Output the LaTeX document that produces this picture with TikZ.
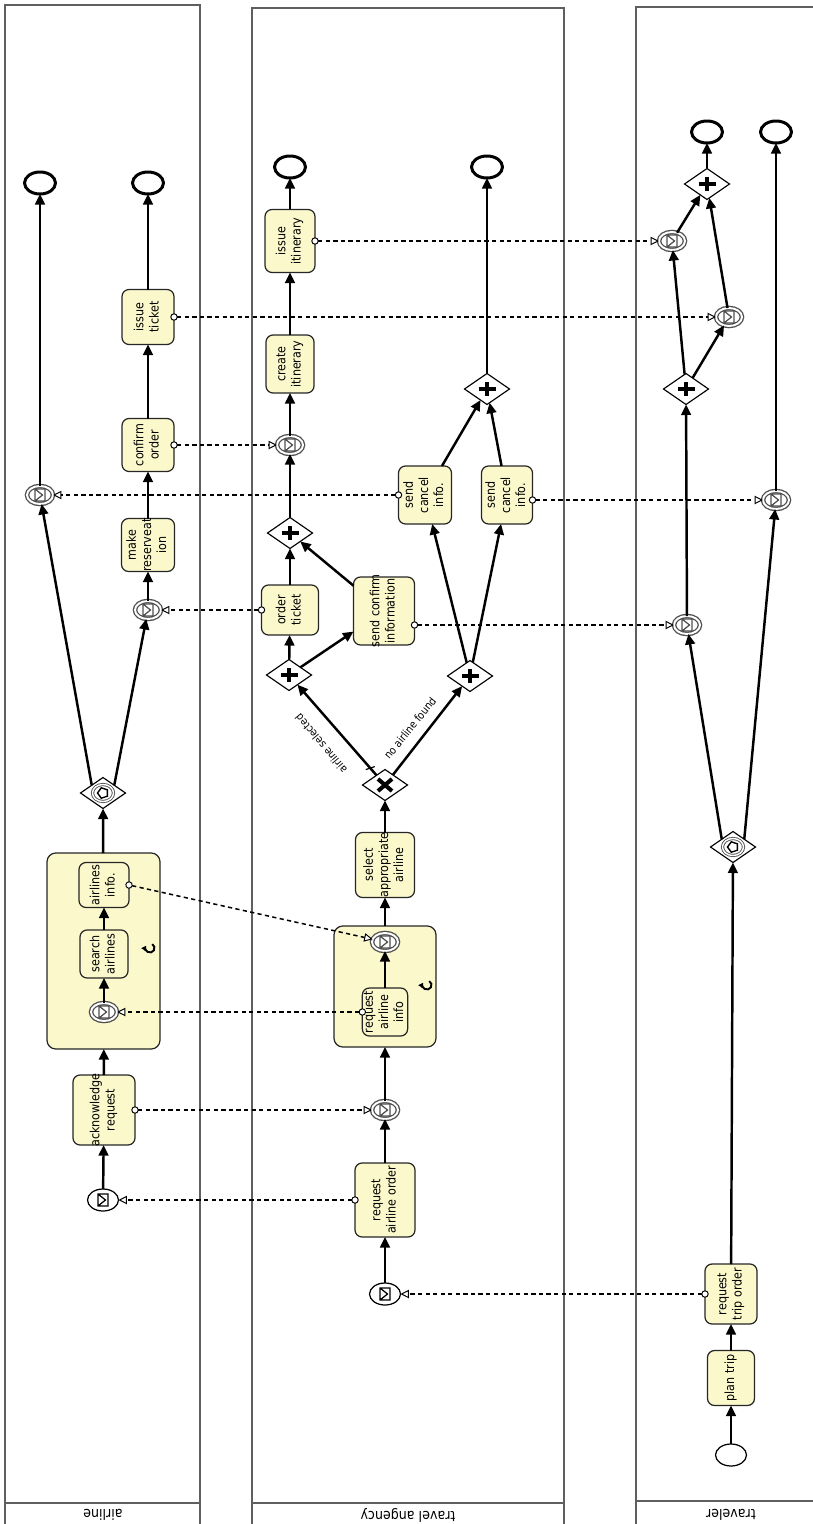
\documentclass[tikz,border=0pt]{standalone}
\usepackage{graphicx}
\usepackage{fontspec}
\setmainfont{DejaVu Sans}[FakeStretch=0.88]
\usetikzlibrary{shapes.geometric,arrows.meta,calc}
\definecolor{taskfill}{RGB}{251,249,204}
\definecolor{lanecol}{RGB}{95,95,95}
\definecolor{ringcol}{RGB}{80,80,80}
\newcommand\rt[1]{\rotatebox{90}{\makebox[0pt]{\begin{tabular}{@{}c@{}}#1\end{tabular}}}}
\tikzset{
 task/.style 2 args={draw=black!85,line width=0.7pt,rounded corners=4pt,fill=taskfill,minimum width=#1*0.02cm,minimum height=#2*0.02cm,font=\fontsize{7.2}{8.6}\selectfont},
 subproc/.style 2 args={draw=black!85,line width=0.7pt,rounded corners=5pt,fill=taskfill,minimum width=#1*0.02cm,minimum height=#2*0.02cm},
 evbase/.style={ellipse,fill=white,minimum width=31*0.02cm,minimum height=22*0.02cm},
 endev/.style={evbase,draw,line width=1.7pt},
 startev/.style={evbase,draw,line width=0.7pt},
 envicon/.style={path picture={\draw[line width=0.7pt,shift={(path picture bounding box.center)}] (-5,-6) rectangle (5,6) (-5,-6) -- (2.5,0) -- (-5,6);}},
 startmsg/.style={startev,envicon},
 catchev/.style={ellipse,fill=white,minimum width=26*0.02cm,minimum height=18*0.02cm,draw=ringcol,line width=0.75pt,double=white,double distance=1.1pt,envicon},
 gw/.style={diamond,draw,line width=0.65pt,fill=white,minimum width=45*0.02cm,minimum height=31*0.02cm},
 gwplus/.style={gw,path picture={\draw[line width=2.1pt,shift={(path picture bounding box.center)}] (-8.5,0) -- (8.5,0) (0,-7) -- (0,7);}},
 gwx/.style={gw,path picture={\draw[line width=2.3pt,shift={(path picture bounding box.center)}] (-7,-6) -- (7,6) (-7,6) -- (7,-6);}},
 gwev/.style={gw,path picture={\draw[ringcol,line width=0.5pt,double=white,double distance=0.8pt,shift={(path picture bounding box.center)}] (0,0) ellipse[x radius=10.5,y radius=8.5];\draw[line width=0.8pt,shift={(path picture bounding box.center)}] (-5.5,0)--(-1.7,-5.2)--(4.4,-3.2)--(4.4,3.2)--(-1.7,5.2)--cycle;}},
 seq/.style={line width=1.4pt,-{Triangle[length=6pt,width=5.5pt]}},
 msg/.style={line width=0.85pt,dash pattern=on 2.4pt off 1.9pt,{Circle[fill=white,length=4.2pt,line width=0.55pt]}-{Triangle[fill=white,length=4.8pt,width=4.8pt,line width=0.55pt]},shorten <=-2.1pt},
 lane/.style={draw=lanecol,line width=0.85pt},
 lanelbl/.style={rotate=180,font=\fontsize{8.2}{9.5}\selectfont},
 flowlbl/.style={font=\fontsize{6.2}{7}\selectfont},
 loopmark/.style={line width=1.1pt,-{Triangle[length=2.6pt,width=3.2pt]}}
}
\begin{document}
\begin{tikzpicture}[x=0.02cm,y=-0.02cm,every node/.style={inner sep=0pt,outer sep=0pt}]
\useasboundingbox (0,0) rectangle (813,1524);
\clip (0,0) rectangle (813,1524);
% lanes
\draw[lane] (5,5) rectangle (200,1540); \draw[lane] (5,1503) -- (200,1503);
\draw[lane] (252,8) rectangle (564,1540); \draw[lane] (252,1503) -- (564,1503);
\draw[lane] (636,7) rectangle (830,1540); \draw[lane] (636,1501) -- (830,1501);
\node[lanelbl] (n1) at (103,1515) {airline};
\node[lanelbl] (n2) at (408,1515) {travel angency};
\node[lanelbl] (n3) at (731,1515) {traveler};
% airline
\node[startmsg] (aS) at (103,1200) {};
\node[task={62}{70}] (ack) at (104,1110) {\rt{acknowledge\\request}};
\node[subproc={113}{196}] (aSub) at (103.5,951) {};
\node[catchev] (aC1) at (104,1012) {};
\node[task={48}{48}] (srch) at (104,954) {\rt{search\\airlines}};
\node[task={50}{45}] (ainf) at (104,885) {\rt{airlines\\info.}};
\coordinate (lm1) at (150,948);
\draw[loopmark] ([shift={(-60:4.5)}]lm1) arc[start angle=-60,end angle=210,radius=4.5];
\node[gwev] (aG) at (103,793) {};
\node[catchev] (aCL) at (40,495) {};
\node[catchev] (aCR) at (148,610) {};
\node[task={53}{53}] (mres) at (148,545) {\rt{make\\reserveat\\ion}};
\node[task={52}{53}] (cord) at (148,445) {\rt{confirm\\order}};
\node[task={52}{55}] (itk) at (148,317) {\rt{issue\\ticket}};
\node[endev] (aE1) at (40,183) {};
\node[endev] (aE2) at (148,183) {};
% travel agency
\node[startmsg] (tS) at (385,1294) {};
\node[task={60}{74}] (rao) at (385,1200) {\rt{request\\airline order}};
\node[catchev] (tC1) at (385,1110) {};
\node[subproc={102}{121}] (tSub) at (385,986.5) {};
\node[task={44}{48}] (rai) at (385,1012) {\rt{request\\airline\\info}};
\node[catchev] (tC2) at (385,942) {};
\coordinate (lm2) at (427,985);
\draw[loopmark] ([shift={(-60:4.5)}]lm2) arc[start angle=-60,end angle=210,radius=4.5];
\node[task={59}{65}] (sel) at (385,865) {\rt{select\\appropriate\\airline}};
\node[gwx] (xg) at (385,785) {};
\node[gwplus] (p1) at (289,675) {};
\node[gwplus] (p2) at (470,676) {};
\node[task={57}{50}] (otk) at (290,610) {\rt{order\\ticket}};
\node[task={61}{68}] (scf) at (384,611) {\rt{send confirm\\information}};
\node[gwplus] (p3) at (290,533) {};
\node[catchev] (tC3) at (290,445) {};
\node[task={48}{58}] (cit) at (290,364) {\rt{create\\itinerary}};
\node[task={50}{63}] (iit) at (290,241) {\rt{issue\\itinerary}};
\node[endev] (tE1) at (290,167) {};
\node[task={53}{58}] (sc1) at (425,495) {\rt{send\\cancel\\info.}};
\node[task={51}{58}] (sc2) at (507,495) {\rt{send\\cancel\\info.}};
\node[gwplus] (p4) at (487,389) {};
\node[endev] (tE2) at (487,167) {};
% traveler
\node[startev] (vS) at (731,1455) {};
\node[task={47}{55}] (plan) at (731,1378) {\rt{plan trip}};
\node[task={52}{60}] (rto) at (731,1294) {\rt{request\\trip order}};
\node[gwev] (vG) at (733,847) {};
\node[catchev] (vC1) at (687,625) {};
\node[catchev] (vC2) at (776,500) {};
\node[gwplus] (vP1) at (686,389) {};
\node[catchev] (vCA) at (672,241) {};
\node[catchev] (vCB) at (729,317) {};
\node[gwplus] (vP2) at (707,184) {};
\node[endev] (vE1) at (707,132) {};
\node[endev] (vE2) at (776,132) {};
% sequence flows - airline
\draw[seq] (aS) -- (ack);
\draw[seq] (ack) -- (aSub);
\draw[seq] (aC1) -- (srch);
\draw[seq] (srch) -- (ainf);
\draw[seq] (aSub) -- (aG);
\draw[seq] (aG.north west) -- (aCL);
\draw[seq] (aG.north east) -- (aCR);
\draw[seq] (aCR) -- (mres);
\draw[seq] (mres) -- (cord);
\draw[seq] (cord) -- (itk);
\draw[seq] (itk) -- (aE2);
\draw[seq] (aCL) -- (aE1);
% sequence flows - travel agency
\draw[seq] (tS) -- (rao);
\draw[seq] (rao) -- (tC1);
\draw[seq] (tC1) -- (tSub);
\draw[seq] (rai) -- (tC2);
\draw[seq] (tSub) -- (sel);
\draw[seq] (sel) -- (xg);
\draw[seq] (xg) -- (p1);
\draw[seq] (xg) -- (p2);
\draw[seq] (p1) -- (otk);
\draw[seq] (p1) -- (scf);
\draw[seq] (otk) -- (p3);
\draw[seq] (scf) -- (p3);
\draw[seq] (p3) -- (tC3);
\draw[seq] (tC3) -- (cit);
\draw[seq] (cit) -- (iit);
\draw[seq] (iit) -- (tE1);
\draw[seq] (p2) -- (sc1);
\draw[seq] (p2) -- (sc2);
\draw[seq] (sc1) -- (p4);
\draw[seq] (sc2) -- (p4);
\draw[seq] (p4) -- (tE2);
\path (xg) -- (p1) coordinate[pos=0.08] (dm);
\draw[line width=0.7pt] ([shift={(-4.5,1.5)}]dm) -- ([shift={(4.5,-1.5)}]dm);
\node[flowlbl,rotate=130] (lbl1) at (321,744) {airline selected};
\node[flowlbl,rotate=51] (lbl2) at (410,728) {no airline found};
% sequence flows - traveler
\draw[seq] (vS) -- (plan);
\draw[seq] (plan) -- (rto);
\draw[seq] (rto) -- (vG);
\draw[seq] (vG.north west) -- (vC1);
\draw[seq] (vG.north east) -- (vC2);
\draw[seq] (vC1) -- (vP1);
\draw[seq] (vP1) -- (vCA);
\draw[seq] (vP1) -- (vCB);
\draw[seq] (vCA) -- (vP2);
\draw[seq] (vCB) -- (vP2);
\draw[seq] (vP2) -- (vE1);
\draw[seq] (vC2) -- (vE2);
% message flows
\draw[msg] (rto.west |- tS) -- (tS);
\draw[msg] (rao.west |- aS) -- (aS);
\draw[msg] (ack.east |- tC1) -- (tC1);
\draw[msg] (rai.west |- aC1) -- (aC1);
\draw[msg] (ainf.east) -- (tC2);
\draw[msg] (otk.west |- aCR) -- (aCR);
\draw[msg] (sc1.west |- aCL) -- (aCL);
\draw[msg] (cord.east |- tC3) -- (tC3);
\draw[msg] (itk.east |- vCB) -- (vCB);
\draw[msg] (iit.east |- vCA) -- (vCA);
\draw[msg] (scf.east |- vC1) -- (vC1);
\draw[msg] (sc2.east |- vC2) -- (vC2);
\end{tikzpicture}
\end{document}
